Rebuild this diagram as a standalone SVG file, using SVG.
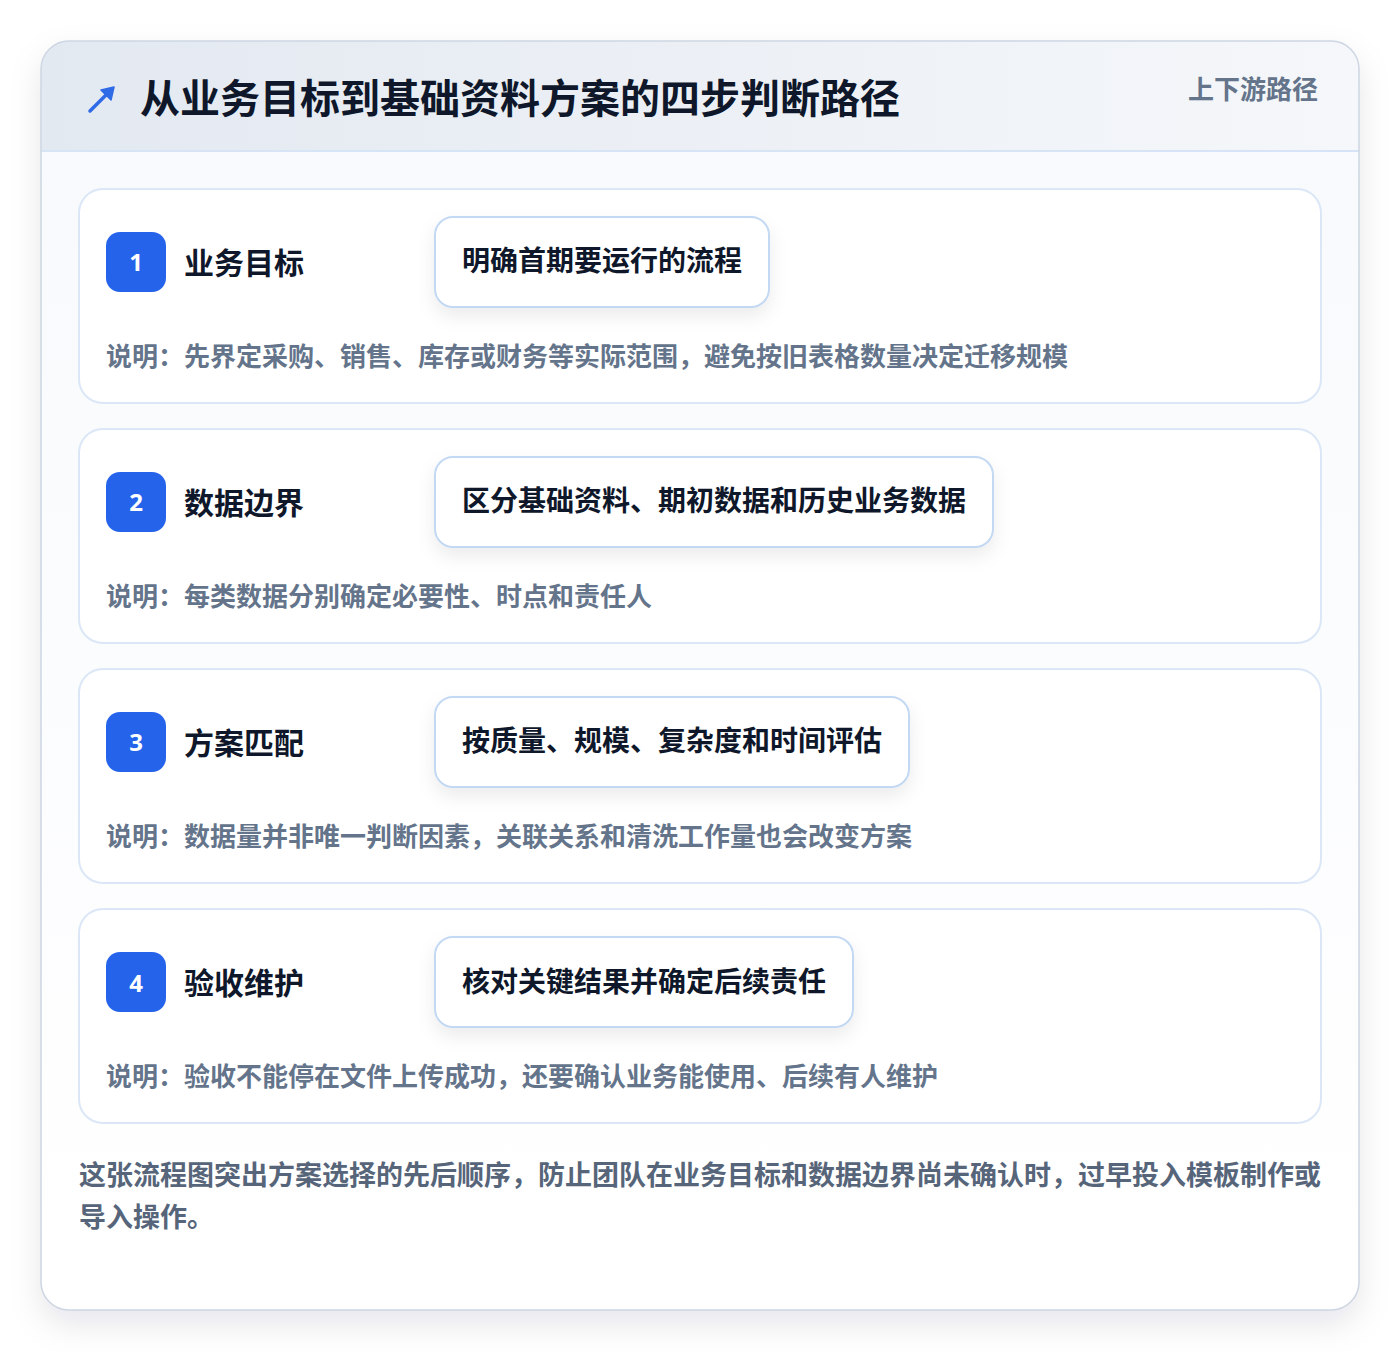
<svg xmlns="http://www.w3.org/2000/svg" width="1400" height="1352" viewBox="0 0 1400 1352">
<defs>
<linearGradient id="hdr" x1="0" y1="0" x2="1" y2="0"><stop offset="0" stop-color="#e3e9f1"/><stop offset="1" stop-color="#f5f7fa"/></linearGradient>
<linearGradient id="body" x1="0" y1="0" x2="0" y2="1"><stop offset="0" stop-color="#f7f9fc"/><stop offset="1" stop-color="#ffffff"/></linearGradient>
<filter id="cardShadow" x="-10%" y="-10%" width="120%" height="125%"><feDropShadow dx="0" dy="14" stdDeviation="16" flood-color="#0f172a" flood-opacity="0.10"/></filter>
<filter id="boxShadow" x="-10%" y="-20%" width="120%" height="160%"><feDropShadow dx="0" dy="8" stdDeviation="9" flood-color="#0f172a" flood-opacity="0.08"/></filter>
<clipPath id="cardClip"><rect x="41" y="41" width="1318" height="1269" rx="28"/></clipPath>
<style>
.cjk{font-family:"Noto Sans CJK SC","Noto Sans",sans-serif;font-weight:700}
.title{font-size:40px;fill:#0f172a}
.tag{font-size:26px;fill:#64748b}
.step{fill:#ffffff;stroke:#dbe7f7;stroke-width:2}
.badge{fill:#2563eb}
.num{font-family:"Noto Sans","Liberation Sans",sans-serif;font-weight:700;font-size:24px;fill:#ffffff}
.stitle{font-size:30px;fill:#0f172a}
.box{fill:#ffffff;stroke:#c3d8f3;stroke-width:2}
.btext{font-size:28px;fill:#0f172a}
.desc{font-size:26px;fill:#64748b}
.foot{font-size:27px;fill:#566579}
</style>
</defs>
<rect width="1400" height="1352" fill="#ffffff"/>
<g id="card">
<rect x="41" y="41" width="1318" height="1269" rx="28" fill="url(#body)" filter="url(#cardShadow)"/>
<g clip-path="url(#cardClip)">
<rect x="41" y="41" width="1318" height="110" fill="url(#hdr)"/>
<line x1="41" y1="151" x2="1359" y2="151" stroke="#d6e4f5" stroke-width="2"/>
</g>
<rect x="41" y="41" width="1318" height="1269" rx="28" fill="none" stroke="#cdd6e2" stroke-width="1.5"/>
</g>
<g id="header">
<g stroke="#2f6be6" stroke-width="3.5" stroke-linecap="round" fill="#2f6be6">
<line x1="90" y1="111" x2="110" y2="91"/>
<path d="M114 87 L101 90 L111 100 Z" stroke-linejoin="round" stroke-width="1.5"/>
</g>
<text class="cjk title" x="140" y="113">从业务目标到基础资料方案的四步判断路径</text>
<text class="cjk tag" x="1318" y="99" text-anchor="end">上下游路径</text>
</g>
<g id="step1">
<rect class="step" x="79" y="189" width="1242" height="214" rx="24"/>
<rect class="badge" x="106" y="232" width="60" height="60" rx="14"/>
<text class="num" x="136" y="271" text-anchor="middle">1</text>
<text class="cjk stitle" x="184" y="274">业务目标</text>
<rect class="box" x="435" y="217" width="334" height="90" rx="18" filter="url(#boxShadow)"/>
<text class="cjk btext" x="602" y="271" text-anchor="middle">明确首期要运行的流程</text>
<text class="cjk desc" x="106" y="366">说明：先界定采购、销售、库存或财务等实际范围，避免按旧表格数量决定迁移规模</text>
</g>
<g id="step2">
<rect class="step" x="79" y="429" width="1242" height="214" rx="24"/>
<rect class="badge" x="106" y="472" width="60" height="60" rx="14"/>
<text class="num" x="136" y="511" text-anchor="middle">2</text>
<text class="cjk stitle" x="184" y="514">数据边界</text>
<rect class="box" x="435" y="457" width="558" height="90" rx="18" filter="url(#boxShadow)"/>
<text class="cjk btext" x="714" y="511" text-anchor="middle">区分基础资料、期初数据和历史业务数据</text>
<text class="cjk desc" x="106" y="606">说明：每类数据分别确定必要性、时点和责任人</text>
</g>
<g id="step3">
<rect class="step" x="79" y="669" width="1242" height="214" rx="24"/>
<rect class="badge" x="106" y="712" width="60" height="60" rx="14"/>
<text class="num" x="136" y="751" text-anchor="middle">3</text>
<text class="cjk stitle" x="184" y="754">方案匹配</text>
<rect class="box" x="435" y="697" width="474" height="90" rx="18" filter="url(#boxShadow)"/>
<text class="cjk btext" x="672" y="751" text-anchor="middle">按质量、规模、复杂度和时间评估</text>
<text class="cjk desc" x="106" y="846">说明：数据量并非唯一判断因素，关联关系和清洗工作量也会改变方案</text>
</g>
<g id="step4">
<rect class="step" x="79" y="909" width="1242" height="214" rx="24"/>
<rect class="badge" x="106" y="952" width="60" height="60" rx="14"/>
<text class="num" x="136" y="992" text-anchor="middle">4</text>
<text class="cjk stitle" x="184" y="994">验收维护</text>
<rect class="box" x="435" y="937" width="418" height="90" rx="18" filter="url(#boxShadow)"/>
<text class="cjk btext" x="644" y="992" text-anchor="middle">核对关键结果并确定后续责任</text>
<text class="cjk desc" x="106" y="1086">说明：验收不能停在文件上传成功，还要确认业务能使用、后续有人维护</text>
</g>
<g id="connectors"></g>
<g id="footer">
<text class="cjk foot" x="79" y="1185">这张流程图突出方案选择的先后顺序，防止团队在业务目标和数据边界尚未确认时，过早投入模板制作或</text>
<text class="cjk foot" x="79" y="1227">导入操作。</text>
</g>
</svg>
